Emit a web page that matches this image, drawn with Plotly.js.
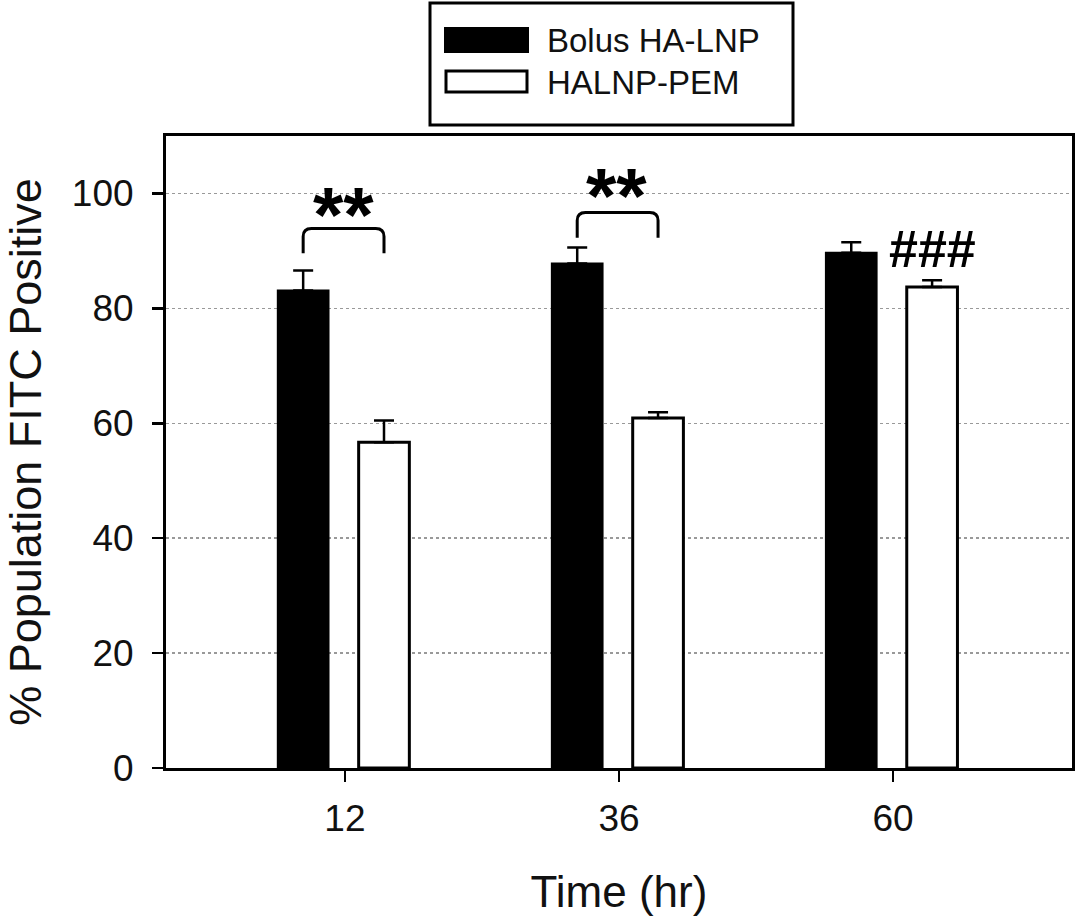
<!DOCTYPE html>
<html>
<head>
<meta charset="utf-8">
<script src="https://cdn.plot.ly/plotly-3.0.1.min.js"></script>
<style>html,body{margin:0;padding:0;background:#fff;}#chart{width:1075px;height:918px;}</style>
</head>
<body>
<div id="chart"></div>
<script>
// ---- data ----
const categories = ["12", "36", "60"];
const seriesNames = ["Bolus HA-LNP", "HALNP-PEM"];
const bolusValues = [83.1, 87.8, 89.7];
const bolusErrors = [3.5, 2.8, 1.8];
const pemValues = [56.7, 60.9, 83.7];
const pemErrors = [3.8, 1.0, 1.2];
const yTicks = [0, 20, 40, 60, 80, 100];
const sigLabels = ["**", "**", "###"];

// ---- layout helpers ----
const xIdx = categories.map((c, i) => i);
const FONT = "Liberation Sans, Arial, sans-serif";
const barW = 0.185, offA = -0.245, offB = 0.05;

const traces = [
  {
    type: "bar", name: seriesNames[0], x: xIdx, y: bolusValues,
    width: barW, offset: offA,
    marker: {color: "#000", line: {color: "#000", width: 2}},
    error_y: {type: "data", symmetric: false, array: bolusErrors,
              arrayminus: bolusErrors.map(() => 0), color: "#000", thickness: 2.5, width: 10}
  },
  {
    type: "bar", name: seriesNames[1], x: xIdx, y: pemValues,
    width: barW, offset: offB,
    marker: {color: "#fff", line: {color: "#000", width: 3}},
    error_y: {type: "data", symmetric: false, array: pemErrors,
              arrayminus: pemErrors.map(() => 0), color: "#000", thickness: 2.5, width: 10}
  }
];

// significance brackets (groups 0 and 1)
function bracket(i, yb, yt) {
  const xl = i + offA + barW / 2, xr = i + offB + barW / 2;
  const rx = 0.03, ry = 1.4;
  return {
    type: "path", xref: "x", yref: "y",
    path: `M ${xl},${yb} L ${xl},${yt - ry} Q ${xl},${yt} ${xl + rx},${yt} L ${xr - rx},${yt} Q ${xr},${yt} ${xr},${yt - ry} L ${xr},${yb}`,
    line: {color: "#000", width: 3}
  };
}

// pixel -> paper helpers for the custom legend in the top margin
const L = 166, R = 1072, T = 136, B = 768;
const px = v => (v - L) / (R - L);
const py = v => (B - v) / (B - T);

const shapes = [
  bracket(0, 89.6, 93.9),
  bracket(1, 92.3, 96.7),
  // legend box
  {type: "rect", xref: "paper", yref: "paper", x0: px(430), x1: px(793), y0: py(125), y1: py(3),
   line: {color: "#000", width: 3}, fillcolor: "#fff"},
  {type: "rect", xref: "paper", yref: "paper", x0: px(445), x1: px(528), y0: py(52), y1: py(28),
   line: {color: "#000", width: 2}, fillcolor: "#000"},
  {type: "rect", xref: "paper", yref: "paper", x0: px(446), x1: px(527), y0: py(92), y1: py(71),
   line: {color: "#000", width: 3}, fillcolor: "#fff"}
];

const annotations = [
  {xref: "paper", yref: "paper", x: px(545), y: py(40), xanchor: "left", yanchor: "middle",
   text: seriesNames[0], showarrow: false, font: {family: FONT, size: 33, color: "#111"}},
  {xref: "paper", yref: "paper", x: px(545), y: py(82), xanchor: "left", yanchor: "middle",
   text: seriesNames[1], showarrow: false, font: {family: FONT, size: 33, color: "#111"}},
  {xref: "x", yref: "y", x: 0 - 0.005, y: 97.6, text: "<b>" + sigLabels[0] + "</b>", showarrow: false,
   yanchor: "middle", yshift: -8, font: {family: FONT, size: 78, color: "#000"}},
  {xref: "x", yref: "y", x: 1 - 0.01, y: 101.0, text: "<b>" + sigLabels[1] + "</b>", showarrow: false,
   yanchor: "middle", yshift: -8, font: {family: FONT, size: 78, color: "#000"}},
  {xref: "x", yref: "y", x: 2 + 0.143, y: 90.4, text: "<b>" + sigLabels[2] + "</b>", showarrow: false,
   yanchor: "middle", font: {family: FONT, size: 52, color: "#000"}}
];

const layout = {
  width: 1075, height: 918,
  margin: {l: L, r: 1075 - R, t: T, b: 918 - B, pad: 0},
  paper_bgcolor: "#fff", plot_bgcolor: "#fff",
  showlegend: false,
  font: {family: FONT, color: "#111"},
  xaxis: {
    type: "linear", range: [-0.653, 2.653],
    tickmode: "array", tickvals: xIdx, ticktext: categories,
    ticks: "outside", ticklen: 11, tickwidth: 2.5, tickcolor: "#000",
    showline: true, linecolor: "#000", linewidth: 3, mirror: true,
    showgrid: false, zeroline: false,
    tickfont: {family: FONT, size: 37, color: "#111"},
    ticklabelstandoff: 5,
    title: {text: "Time (hr)", font: {family: FONT, size: 44, color: "#111"}, standoff: 38}
  },
  yaxis: {
    range: [0, 110], tickmode: "array", tickvals: yTicks,
    ticks: "outside", ticklen: 11, tickwidth: 2.5, tickcolor: "#000",
    showline: true, linecolor: "#000", linewidth: 3, mirror: true,
    showgrid: true, gridcolor: "#999", gridwidth: 1.5, griddash: "dot",
    zeroline: false,
    tickfont: {family: FONT, size: 37, color: "#111"},
    ticklabelstandoff: 11,
    title: {text: "% Population FITC Positive", font: {family: FONT, size: 45, color: "#111"}, standoff: 20}
  },
  shapes: shapes,
  annotations: annotations
};

Plotly.newPlot("chart", traces, layout, {displayModeBar: false, staticPlot: true});
</script>
</body>
</html>
